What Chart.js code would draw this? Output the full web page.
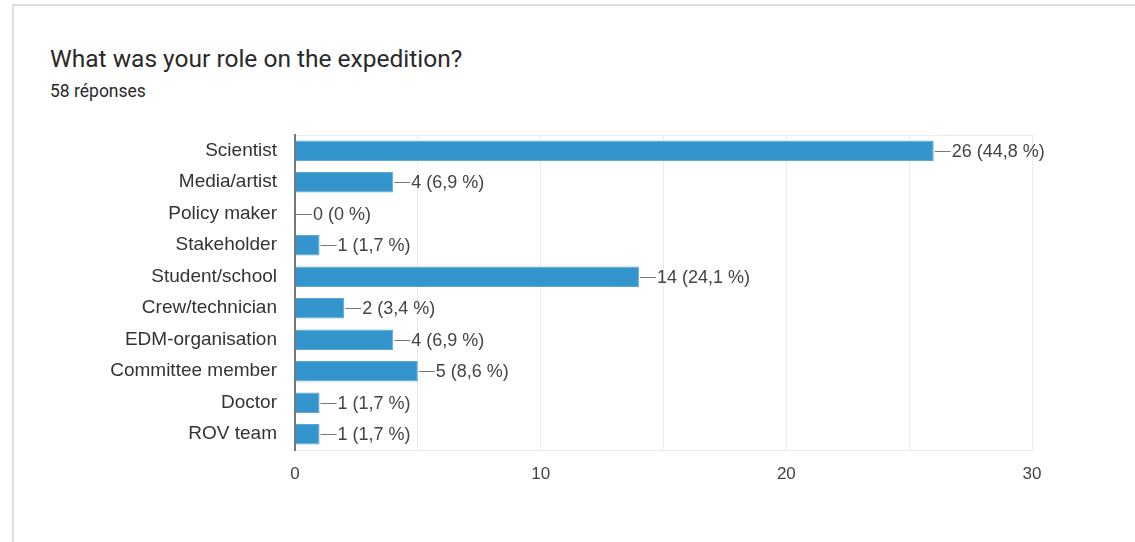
<!DOCTYPE html>
<html lang="en">

<head>
    <meta charset="UTF-8">
    <meta name="viewport" content="width=device-width, initial-scale=1.0">
    <title>What was your role on the expedition?</title>
    <script src="https://cdn.jsdelivr.net/npm/chart.js"></script>
    <style>
        html, body { margin: 0; padding: 0; background: #fff; }
        body { width: 1135px; height: 542px; position: relative; overflow: hidden; font-family: Roboto, Arial, sans-serif; }
        .card { position: absolute; left: 12px; top: 4px; right: -10px; bottom: -10px; border-top: 2px solid #dedede; border-left: 2px solid #dedede; }
        .title { position: absolute; left: 50px; top: 44px; font-size: 24.5px; color: #2a2a2a; }
        .sub { position: absolute; left: 50px; top: 81px; font-size: 17.5px; color: #2a2a2a; }
        .chart-container { position: absolute; left: 0; top: 0; width: 1135px; height: 542px; }
    </style>
</head>

<body>
    <div class="card"></div>
    <div class="title">What was your role on the expedition?</div>
    <div class="sub">58 réponses</div>
    <div class="chart-container">
        <canvas id="roleChart"></canvas>
    </div>
    <script>
        // Data
        const roles = ['Scientist', 'Media/artist', 'Policy maker', 'Stakeholder', 'Student/school',
            'Crew/technician', 'EDM-organisation', 'Committee member', 'Doctor', 'ROV team'];
        const counts = [26, 4, 0, 1, 14, 2, 4, 5, 1, 1];
        const percents = ['44,8', '6,9', '0', '1,7', '24,1', '3,4', '6,9', '8,6', '1,7', '1,7'];
        const xTicks = [0, 10, 20, 30];

        const gridColor = '#ebebeb';

        // Leader line + "n (p %)" after each bar
        const valueLabels = {
            id: 'valueLabels',
            afterDatasetsDraw(chart) {
                const ctx = chart.ctx;
                const meta = chart.getDatasetMeta(0);
                ctx.save();
                ctx.font = '18px "Liberation Sans", Arial, sans-serif';
                ctx.textBaseline = 'middle';
                ctx.textAlign = 'left';
                meta.data.forEach((bar, i) => {
                    const x = bar.x;
                    const y = Math.round(bar.y) + 0.5;
                    ctx.strokeStyle = '#777';
                    ctx.lineWidth = 1;
                    ctx.beginPath();
                    ctx.moveTo(x + 1, y);
                    ctx.lineTo(x + 17, y);
                    ctx.stroke();
                    ctx.fillStyle = '#444';
                    ctx.fillText(counts[i] + ' (' + percents[i] + ' %)', x + 18, y + 1);
                });
                ctx.restore();
            }
        };

        new Chart(document.getElementById('roleChart'), {
            type: 'bar',
            data: {
                labels: roles,
                datasets: [{
                    data: counts,
                    backgroundColor: '#3494cc',
                    borderColor: '#5aa9d8',
                    borderWidth: 1,
                    categoryPercentage: 1,
                    barPercentage: 0.65
                }]
            },
            options: {
                indexAxis: 'y',
                responsive: true,
                maintainAspectRatio: false,
                animation: false,
                layout: { padding: { left: 0, right: 103, top: 135, bottom: 0 } },
                plugins: {
                    legend: { display: false },
                    tooltip: { enabled: false }
                },
                scales: {
                    x: {
                        min: xTicks[0],
                        max: xTicks[xTicks.length - 1],
                        afterBuildTicks: (scale) => {
                            scale.ticks = [];
                            for (let v = xTicks[0]; v <= xTicks[xTicks.length - 1]; v += 5) scale.ticks.push({ value: v });
                        },
                        afterFit: (scale) => { scale.height = 92; },
                        grid: { color: gridColor, drawTicks: false },
                        border: { color: gridColor },
                        ticks: {
                            padding: 14,
                            color: '#444',
                            font: { family: '"Liberation Sans", Arial, sans-serif', size: 17 },
                            callback: (v) => xTicks.includes(v) ? String(v) : ''
                        }
                    },
                    y: {
                        afterFit: (scale) => { scale.width = 295; },
                        grid: {
                            drawTicks: false,
                            color: (c) => c.index === 0 ? gridColor : 'transparent'
                        },
                        border: { color: '#777', width: 2 },
                        ticks: {
                            padding: 18,
                            color: '#333',
                            font: { family: '"Liberation Sans", Arial, sans-serif', size: 19 }
                        }
                    }
                }
            },
            plugins: [valueLabels]
        });
    </script>
</body>

</html>
